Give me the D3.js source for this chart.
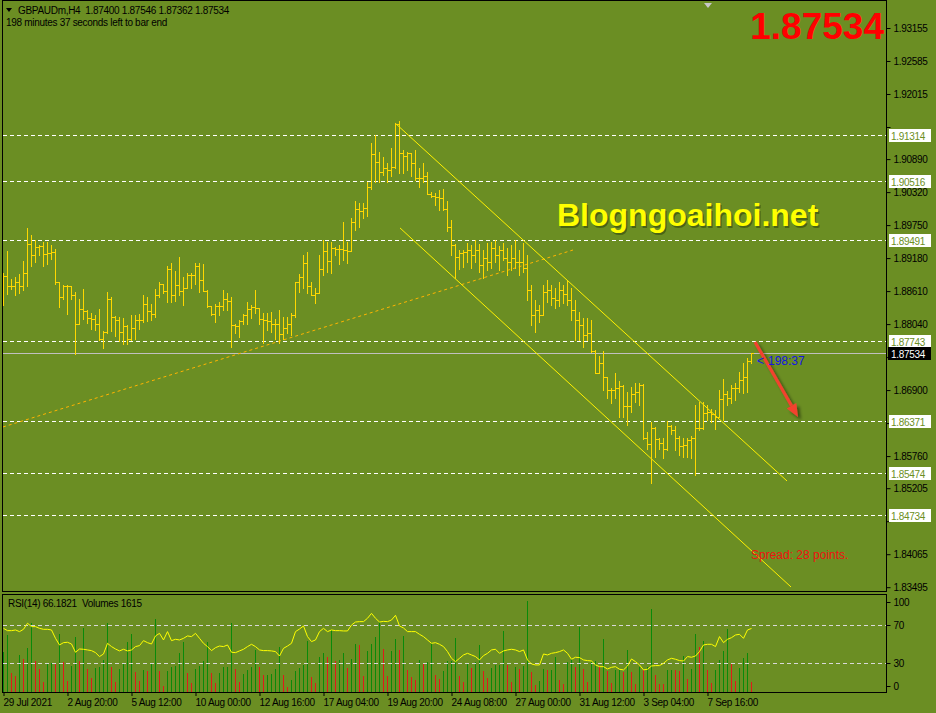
<!DOCTYPE html>
<html>
<head>
<meta charset="utf-8">
<script src="https://cdn.jsdelivr.net/npm/d3@7"></script>
<style>
  body { margin: 0; background: #6b8e23; }
  svg { display: block; font-family: "Liberation Sans", Arial, sans-serif; }
  .small { font-size: 10px; letter-spacing: -0.3px; }
</style>
</head>
<body>
<div id="chart"></div>
<script>
// GBPAUDm H4 bars, oldest first (open of each bar = close of the bar before)
var firstOpen = 1.8880;
var highs = [
  1.8893,1.8930,1.8882,1.8886,1.8891,1.8913,1.8970,1.8958,1.8949,1.8941,
  1.8946,1.8946,1.8941,1.8933,1.8877,1.8872,1.8872,1.8869,1.8860,1.8848,
  1.8865,1.8829,1.8824,1.8820,1.8830,1.8792,1.8860,1.8850,1.8818,1.8817,
  1.8815,1.8802,1.8820,1.8820,1.8821,1.8854,1.8850,1.8838,1.8865,1.8876,
  1.8874,1.8904,1.8910,1.8895,1.8920,1.8886,1.8893,1.8892,1.8910,1.8910,
  1.8908,1.8863,1.8835,1.8838,1.8843,1.8863,1.8857,1.8850,1.8805,1.8811,
  1.8821,1.8842,1.8837,1.8863,1.8831,1.8824,1.8824,1.8825,1.8812,1.8829,
  1.8816,1.8816,1.8823,1.8877,1.8891,1.8923,1.8928,1.8877,1.8866,1.8923,
  1.8949,1.8946,1.8945,1.8938,1.8941,1.8981,1.8945,1.8987,1.9017,1.9013,
  1.9013,1.9050,1.9116,1.9131,1.9102,1.9093,1.9082,1.9108,1.9151,1.9154,
  1.9105,1.9102,1.9100,1.9104,1.9073,1.9082,1.9067,1.9033,1.9030,1.9035,
  1.9037,1.9017,1.8984,1.8943,1.8932,1.8932,1.8944,1.8941,1.8949,1.8942,
  1.8932,1.8944,1.8946,1.8949,1.8939,1.8944,1.8936,1.8941,1.8949,1.8932,
  1.8944,1.8923,1.8872,1.8846,1.8837,1.8872,1.8880,1.8872,1.8866,1.8877,
  1.8872,1.8879,1.8866,1.8846,1.8825,1.8815,1.8815,1.8811,1.8759,1.8749,
  1.8758,1.8713,1.8693,1.8720,1.8705,1.8699,1.8687,1.8696,1.8702,1.8703,
  1.8700,1.8618,1.8635,1.8627,1.8607,1.8607,1.8637,1.8630,1.8628,1.8610,
  1.8607,1.8607,1.8610,1.8664,1.8670,1.8670,1.8664,1.8658,1.8656,1.8691,
  1.8710,1.8689,1.8699,1.8702,1.8722,1.8736,1.8745,1.87546
];
var lows = [
  1.8837,1.8856,1.8865,1.8854,1.8858,1.8863,1.8869,1.8904,1.8912,1.8923,
  1.8905,1.8908,1.8916,1.8874,1.8834,1.8847,1.8822,1.8847,1.8752,1.8805,
  1.8813,1.8806,1.8796,1.8794,1.8776,1.8762,1.8788,1.8792,1.8784,1.8775,
  1.8769,1.8770,1.8776,1.8778,1.8795,1.8808,1.8810,1.8811,1.8817,1.8850,
  1.8858,1.8843,1.8843,1.8844,1.8854,1.8837,1.8866,1.8866,1.8874,1.8860,
  1.8862,1.8834,1.8819,1.8808,1.8820,1.8829,1.8828,1.8765,1.8789,1.8782,
  1.8805,1.8805,1.8814,1.8823,1.8805,1.8771,1.8794,1.8791,1.8778,1.8771,
  1.8779,1.8788,1.8785,1.8817,1.8860,1.8866,1.8857,1.8854,1.8841,1.8857,
  1.8889,1.8894,1.8892,1.8923,1.8907,1.8915,1.8909,1.8930,1.8967,1.8972,
  1.8987,1.8990,1.9038,1.9050,1.9050,1.9062,1.9050,1.9059,1.9074,1.9065,
  1.9065,1.9070,1.9059,1.9053,1.9041,1.9050,1.9029,1.9023,1.9010,1.9001,
  1.9001,1.8964,1.8923,1.8883,1.8900,1.8903,1.8911,1.8901,1.8911,1.8894,
  1.8884,1.8898,1.8901,1.8911,1.8898,1.8915,1.8889,1.8898,1.8901,1.8889,
  1.8894,1.8846,1.8803,1.8790,1.8808,1.8820,1.8842,1.8837,1.8832,1.8835,
  1.8841,1.8837,1.8811,1.8777,1.8777,1.8765,1.8777,1.8755,1.8719,1.8719,
  1.8690,1.8676,1.8668,1.8676,1.8643,1.8644,1.8630,1.8653,1.8670,1.8664,
  1.8605,1.8589,1.8530,1.8575,1.8589,1.8572,1.8587,1.8615,1.8586,1.8578,
  1.8575,1.8575,1.8572,1.8543,1.8621,1.8623,1.8638,1.8635,1.8622,1.8643,
  1.8639,1.8664,1.8668,1.8673,1.8687,1.8685,1.8687,1.87362
];
var closes = [
  1.8887,1.8869,1.8870,1.8877,1.8869,1.8892,1.8942,1.8923,1.8937,1.8939,
  1.8925,1.8926,1.8928,1.8876,1.8851,1.8869,1.8869,1.8855,1.8805,1.8830,
  1.8827,1.8814,1.8812,1.8804,1.8778,1.8790,1.8848,1.8816,1.8811,1.8790,
  1.8800,1.8779,1.8797,1.8811,1.8811,1.8839,1.8826,1.8821,1.8855,1.8873,
  1.8861,1.8900,1.8854,1.8871,1.8861,1.8867,1.8889,1.8888,1.8904,1.8881,
  1.8862,1.8835,1.8821,1.8836,1.8836,1.8847,1.8844,1.8802,1.8801,1.8810,
  1.8820,1.8830,1.8833,1.8831,1.8812,1.8811,1.8810,1.8804,1.8804,1.8787,
  1.8797,1.8804,1.8819,1.8876,1.8886,1.8910,1.8869,1.8854,1.8857,1.8900,
  1.8931,1.8913,1.8935,1.8934,1.8934,1.8932,1.8931,1.8981,1.9002,1.9000,
  1.9004,1.9040,1.9097,1.9084,1.9067,1.9073,1.9071,1.9075,1.9150,1.9100,
  1.9094,1.9099,1.9082,1.9056,1.9057,1.9059,1.9029,1.9026,1.9024,1.9022,
  1.9003,1.8972,1.8940,1.8920,1.8926,1.8929,1.8932,1.8923,1.8932,1.8906,
  1.8918,1.8911,1.8936,1.8923,1.8932,1.8918,1.8911,1.8918,1.8911,1.8911,
  1.8901,1.8863,1.8820,1.8828,1.8820,1.8860,1.8863,1.8849,1.8846,1.8863,
  1.8856,1.8846,1.8828,1.8811,1.8803,1.8785,1.8789,1.8758,1.8720,1.8736,
  1.8713,1.8690,1.8690,1.8693,1.8697,1.8663,1.8663,1.8684,1.8687,1.8699,
  1.8607,1.8597,1.8624,1.8605,1.8598,1.8589,1.8628,1.8621,1.8607,1.8593,
  1.8595,1.8604,1.8608,1.8624,1.8625,1.8651,1.8653,1.8649,1.8644,1.8674,
  1.8684,1.8676,1.8693,1.8693,1.8708,1.8713,1.8740,1.87534
];
var volumes = [
  6330,8950,2930,2510,5810,5180,6860,10780,4870,3610,
  1620,4500,4610,4450,9100,4760,1730,4080,8690,4870,
  10100,3610,2250,3820,3870,5020,10780,3870,1620,3560,
  4610,7800,9100,3190,1780,3450,3300,4500,11460,3300,
  940,3300,3980,4080,6070,7900,2930,1360,3610,4080,
  4920,7800,2930,1360,3040,3870,3900,10780,3610,1620,
  2770,3450,3870,6590,3870,2670,2700,2750,3610,7010,
  2670,840,1880,3300,3820,4240,8010,2300,1360,5440,
  6180,5440,9730,4870,5020,6180,3820,5130,7540,7400,
  2510,6440,7480,8580,10940,6750,2510,6440,8270,6590,
  8840,3450,2300,1880,5020,4500,4760,7640,2670,1990,
  3350,4870,4900,8530,2510,1620,4400,3820,4760,7380,
  3300,2250,3820,4240,4290,9580,4240,1520,3980,3610,
  4080,14290,3090,1100,1730,3610,3450,3500,5440,1880,
  1200,4760,5180,3870,10150,3610,1570,4760,4870,4130,
  8270,3300,1360,3450,3500,3190,6590,3190,1260,3870,
  3450,3870,13030,2670,1260,1200,3450,3500,3400,3300,
  5650,2040,3610,9100,7010,8010,3450,1360,3450,5020,
  6440,9890,4400,1730,3720,5290,6070,1615
];
var rsiValues = [
  66.3,63.9,63.9,64.6,62.9,65.3,71.6,68.1,68.1,66.3,
  65.3,65.3,64.6,55.9,49.0,51.4,51.8,50.0,41.4,44.8,
  44.5,43.8,43.1,41.0,36.9,39.6,50.7,47.3,44.8,42.8,
  44.5,42.8,43.8,47.3,48.3,53.5,51.4,50.0,58.4,61.1,
  54.2,62.9,53.5,54.9,54.2,55.9,58.4,57.7,61.1,55.9,
  50.7,47.3,43.1,46.2,47.9,47.3,49.0,41.4,41.0,42.8,
  44.5,47.3,49.7,47.3,43.8,43.1,43.1,42.8,42.1,37.5,
  45.5,47.9,50.7,62.9,65.6,68.8,57.7,52.5,54.2,62.9,
  66.3,62.9,64.6,63.9,63.9,63.6,63.6,69.8,72.9,73.3,
  73.3,76.8,81.9,76.8,72.9,73.6,73.3,75.0,79.9,68.8,
  66.7,62.9,62.9,62.9,60.1,57.7,54.2,50.7,51.4,49.7,
  47.3,42.1,35.1,31.6,35.1,38.6,40.3,38.6,36.9,33.4,
  37.9,40.3,43.8,44.5,40.3,42.8,43.8,44.5,43.8,42.1,
  43.8,33.4,29.2,28.2,28.2,39.6,38.6,40.3,41.0,42.1,
  43.8,40.3,34.1,36.2,35.8,33.4,32.7,32.3,28.2,26.4,
  26.4,24.0,25.7,26.4,23.7,23.0,27.1,34.4,31.6,28.2,
  23.0,23.7,27.1,27.5,27.5,29.9,33.4,35.1,34.1,32.7,
  32.3,36.9,36.2,37.5,42.1,49.0,49.7,49.7,47.3,57.7,
  51.4,54.9,56.6,59.4,60.1,55.9,64.6,66.18
];

var priceTicks = ['1.93155','1.92585','1.92015','1.91445','1.90890','1.90320','1.89750','1.89180','1.88610',
  '1.88040','1.87470','1.86900','1.86330','1.85760','1.85205','1.84635','1.84065','1.83495'];
var levels = [1.91314, 1.90516, 1.89491, 1.87743, 1.86371, 1.85474, 1.84734];
var lastPrice = 1.87534;
var timeTickBars = [0, 16, 32, 48, 64, 80, 96, 112, 128, 144, 160, 176];
var timeLabels = ['29 Jul 2021','2 Aug 20:00','5 Aug 12:00','10 Aug 00:00','12 Aug 16:00','17 Aug 04:00',
  '19 Aug 20:00','24 Aug 08:00','27 Aug 00:00','31 Aug 12:00','3 Sep 04:00','7 Sep 16:00'];
var rsiTicks = [100, 70, 30, 0];
var rsiLevels = [70, 30];

// drawings, as [bar index, price]
var trendLine = [[0, 1.86263], [142.5, 1.89320]];
var channelTop = [[98, 1.91514], [196, 1.85330]];
var channelBottom = [[99.25, 1.89701], [197, 1.83499]];
var arrowPts = [[188, 1.87731], [198.75, 1.86436]];

var W = 936, H = 713;
var olive = '#6b8e23';

var svg = d3.select('#chart').append('svg')
  .attr('width', W)
  .attr('height', H);

var defs = svg.append('defs');
defs.append('clipPath').attr('id', 'mainClip')
  .append('rect').attr('x', 3).attr('y', 1).attr('width', 883).attr('height', 590);
// price labels are drawn under the level boxes, as in the terminal
defs.append('clipPath').attr('id', 'axisClip')
  .append('rect').attr('x', 886).attr('y', 0).attr('width', 50).attr('height', 592);
var sh = defs.append('filter').attr('id', 'shadow')
  .attr('x', '-20%').attr('y', '-20%').attr('width', '160%').attr('height', '160%');
sh.append('feDropShadow').attr('dx', 3).attr('dy', 3).attr('stdDeviation', 1.6)
  .attr('flood-color', '#000').attr('flood-opacity', 0.45);

svg.append('rect').attr('width', W).attr('height', H).attr('fill', olive);

var x = d3.scaleLinear().domain([0, 220.75]).range([3, 886]);
var y = d3.scaleLinear().domain([1.83495, 1.93155]).range([587.2, 28]);
var yR = d3.scaleLinear().domain([0, 100]).range([692, 596]);
var yV = d3.scaleLinear().domain([0, 14600]).range([692, 599]);

function px(v) { return Math.round(v); }

var main = svg.append('g').attr('clip-path', 'url(#mainClip)');

// horizontal levels
main.append('g').selectAll('line').data(levels).enter().append('line')
  .attr('x1', 3).attr('x2', 886)
  .attr('y1', function (d) { return px(y(d)) + 0.5; })
  .attr('y2', function (d) { return px(y(d)) + 0.5; })
  .attr('stroke', '#fff').attr('stroke-dasharray', '4,3');

// bid line
main.append('line')
  .attr('x1', 3).attr('x2', 886)
  .attr('y1', px(y(lastPrice)) + 0.5).attr('y2', px(y(lastPrice)) + 0.5)
  .attr('stroke', '#c0c0c0');

// trend line and channel
main.append('line')
  .attr('x1', x(trendLine[0][0])).attr('y1', y(trendLine[0][1]))
  .attr('x2', x(trendLine[1][0])).attr('y2', y(trendLine[1][1]))
  .attr('stroke', '#ffb400').attr('stroke-dasharray', '3,3');

[channelTop, channelBottom].forEach(function (ln) {
  main.append('line')
    .attr('x1', x(ln[0][0])).attr('y1', y(ln[0][1]))
    .attr('x2', x(ln[1][0])).attr('y2', y(ln[1][1]))
    .attr('stroke', '#fff000').attr('stroke-width', 1);
});

// OHLC bars
var bars = closes.map(function (c, i) {
  return { i: i, o: i === 0 ? firstOpen : closes[i - 1], h: highs[i], l: lows[i], c: c };
});

var gBars = main.append('g').attr('shape-rendering', 'crispEdges').attr('stroke', '#ffd700');
gBars.selectAll('line.hl').data(bars).enter().append('line')
  .attr('class', 'hl')
  .attr('x1', function (d) { return px(x(d.i)) + 0.5; })
  .attr('x2', function (d) { return px(x(d.i)) + 0.5; })
  .attr('y1', function (d) { return px(y(d.h)); })
  .attr('y2', function (d) { return px(y(d.l)) + 1; });
gBars.selectAll('line.op').data(bars).enter().append('line')
  .attr('class', 'op')
  .attr('x1', function (d) { return px(x(d.i)) - 2; })
  .attr('x2', function (d) { return px(x(d.i)); })
  .attr('y1', function (d) { return px(y(d.o)) + 0.5; })
  .attr('y2', function (d) { return px(y(d.o)) + 0.5; });
gBars.selectAll('line.cl').data(bars).enter().append('line')
  .attr('class', 'cl')
  .attr('x1', function (d) { return px(x(d.i)) + 1; })
  .attr('x2', function (d) { return px(x(d.i)) + 3; })
  .attr('y1', function (d) { return px(y(d.c)) + 0.5; })
  .attr('y2', function (d) { return px(y(d.c)) + 0.5; });

// red arrow
var ax1 = x(arrowPts[0][0]), ay1 = y(arrowPts[0][1]);
var ax2 = x(arrowPts[1][0]), ay2 = y(arrowPts[1][1]);
var ang = Math.atan2(ay2 - ay1, ax2 - ax1);
var headLen = 13, headW = 5.5;
var bx = ax2 - headLen * Math.cos(ang), by = ay2 - headLen * Math.sin(ang);
var gArrow = svg.append('g').attr('filter', 'url(#shadow)');
gArrow.append('line')
  .attr('x1', ax1).attr('y1', ay1).attr('x2', bx).attr('y2', by)
  .attr('stroke', '#f2422f').attr('stroke-width', 3.2);
gArrow.append('polygon')
  .attr('points', [
    [ax2, ay2],
    [bx + headW * Math.sin(ang), by - headW * Math.cos(ang)],
    [bx - headW * Math.sin(ang), by + headW * Math.cos(ang)]
  ].map(function (p) { return p.join(','); }).join(' '))
  .attr('fill', '#f2422f');

// texts on chart
svg.append('polygon').attr('points', '6,8 12,8 9,12').attr('fill', '#000');
svg.append('text').attr('class', 'small').attr('x', 18).attr('y', 14)
  .style('white-space', 'pre')
  .text('GBPAUDm,H4  1.87400 1.87546 1.87362 1.87534');
svg.append('text').attr('class', 'small').attr('x', 6).attr('y', 26)
  .text('198 minutes 37 seconds left to bar end');
svg.append('polygon').attr('points', '704,3 712,3 708,8').attr('fill', '#c8c8c8');

svg.append('text').attr('x', 884).attr('y', 39)
  .attr('text-anchor', 'end')
  .attr('font-size', 37).attr('font-weight', 'bold')
  .attr('fill', '#ff0000')
  .text('1.87534');

svg.append('text').attr('x', 558.5).attr('y', 227.5)
  .attr('font-size', 32).attr('font-weight', 'bold')
  .attr('fill', '#3a5210').attr('opacity', 0.7)
  .text('Blogngoaihoi.net');
svg.append('text').attr('x', 557).attr('y', 226)
  .attr('font-size', 32).attr('font-weight', 'bold')
  .attr('fill', '#ffff00')
  .text('Blogngoaihoi.net');

svg.append('text').attr('x', 757).attr('y', 365)
  .attr('font-size', 12).attr('fill', '#1414e6').text('<');
svg.append('text').attr('x', 768).attr('y', 365)
  .attr('font-size', 12).attr('fill', '#1414e6').text('198:37');

svg.append('text').attr('x', 751).attr('y', 559)
  .attr('font-size', 12).attr('fill', '#ee1111')
  .text('Spread: 28 points.');

// price axis; a tick label is left out where a level box covers it
var boxes = levels.concat([lastPrice]);
function covered(v) {
  return boxes.some(function (b) { return Math.abs(y(b) - y(v)) < 9; });
}
var yAxis = d3.axisRight(y)
  .tickValues(priceTicks.map(Number))
  .tickFormat(function (d, i) { return covered(d) ? '' : priceTicks[i]; })
  .tickSize(4)
  .tickPadding(3);
var gY = svg.append('g').attr('transform', 'translate(886.5,0)').call(yAxis);
gY.select('.domain').remove();
gY.selectAll('.tick line').attr('stroke', '#000');
gY.selectAll('.tick text').attr('class', 'small').attr('fill', '#000')
  .style('font-family', '"Liberation Sans", Arial, sans-serif');

// level labels
var gLv = svg.append('g');
gLv.selectAll('rect').data(levels).enter().append('rect')
  .attr('x', 889).attr('width', 42)
  .attr('y', function (d) { return px(y(d)) - 6; })
  .attr('height', 13).attr('fill', '#fff');
gLv.selectAll('text').data(levels).enter().append('text')
  .attr('class', 'small')
  .attr('x', 891).attr('y', function (d) { return px(y(d)) + 4.5; })
  .attr('fill', olive)
  .text(function (d) { return d.toFixed(5); });

svg.append('rect').attr('x', 888).attr('y', px(y(lastPrice)) - 6)
  .attr('width', 43).attr('height', 13).attr('fill', '#000');
svg.append('text').attr('class', 'small').attr('x', 891).attr('y', px(y(lastPrice)) + 4.5)
  .attr('fill', '#fff').text(lastPrice.toFixed(5));

// RSI / volumes window
var gSub = svg.append('g');
gSub.append('g').attr('shape-rendering', 'crispEdges')
  .selectAll('line').data(volumes).enter().append('line')
  .attr('x1', function (d, i) { return px(x(i)) + 0.5; })
  .attr('x2', function (d, i) { return px(x(i)) + 0.5; })
  .attr('y1', function (d) { return yV(0); })
  .attr('y2', function (d) { return px(yV(d)); })
  .attr('stroke', function (d, i) { return i === 0 || d > volumes[i - 1] ? '#0a8a0a' : '#e01a1a'; });

gSub.selectAll('line.lv').data(rsiLevels).enter().append('line')
  .attr('class', 'lv')
  .attr('x1', 3).attr('x2', 886)
  .attr('y1', function (d) { return px(yR(d)) + 0.5; })
  .attr('y2', function (d) { return px(yR(d)) + 0.5; })
  .attr('stroke', '#d8d8d8').attr('stroke-dasharray', '4,3');

gSub.append('path')
  .datum(rsiValues)
  .attr('fill', 'none').attr('stroke', '#ffff00').attr('stroke-width', 1)
  .attr('d', d3.line()
    .x(function (d, i) { return x(i) + 0.5; })
    .y(function (d) { return yR(d); }));

svg.append('text').attr('class', 'small').attr('x', 8).attr('y', 607).text('RSI(14) 66.1821');
svg.append('text').attr('class', 'small').attr('x', 82).attr('y', 607).text('Volumes 1615');

var gRt = svg.append('g').selectAll('g').data(rsiTicks).enter().append('g')
  .attr('transform', function (d) {
    var yy = yR(d);
    if (d === 100) yy += 6;
    if (d === 0) yy -= 6;
    return 'translate(886.5,' + px(yy) + ')';
  });
gRt.append('line').attr('x1', 0).attr('x2', 4).attr('y1', 0.5).attr('y2', 0.5).attr('stroke', '#000');
gRt.append('text').attr('class', 'small').attr('x', 7).attr('y', 4)
  .text(function (d) { return d; });

// time axis
var xAxis = d3.axisBottom(x)
  .tickValues(timeTickBars)
  .tickFormat(function (d, i) { return timeLabels[i]; })
  .tickSize(4)
  .tickPadding(3);
var gX = svg.append('g').attr('transform', 'translate(0.5,692)').call(xAxis);
gX.select('.domain').remove();
gX.selectAll('.tick line').attr('stroke', '#000');
gX.selectAll('.tick text').attr('class', 'small').attr('fill', '#000')
  .attr('text-anchor', 'start').attr('x', -0.5)
  .style('font-family', '"Liberation Sans", Arial, sans-serif');

// window frames
var frames = svg.append('g').attr('fill', 'none').attr('stroke', '#000').attr('shape-rendering', 'crispEdges');
frames.append('rect').attr('x', 2.5).attr('y', 0.5).attr('width', 884).attr('height', 591);
frames.append('rect').attr('x', 2.5).attr('y', 594.5).attr('width', 884).attr('height', 98);
</script>
</body>
</html>
